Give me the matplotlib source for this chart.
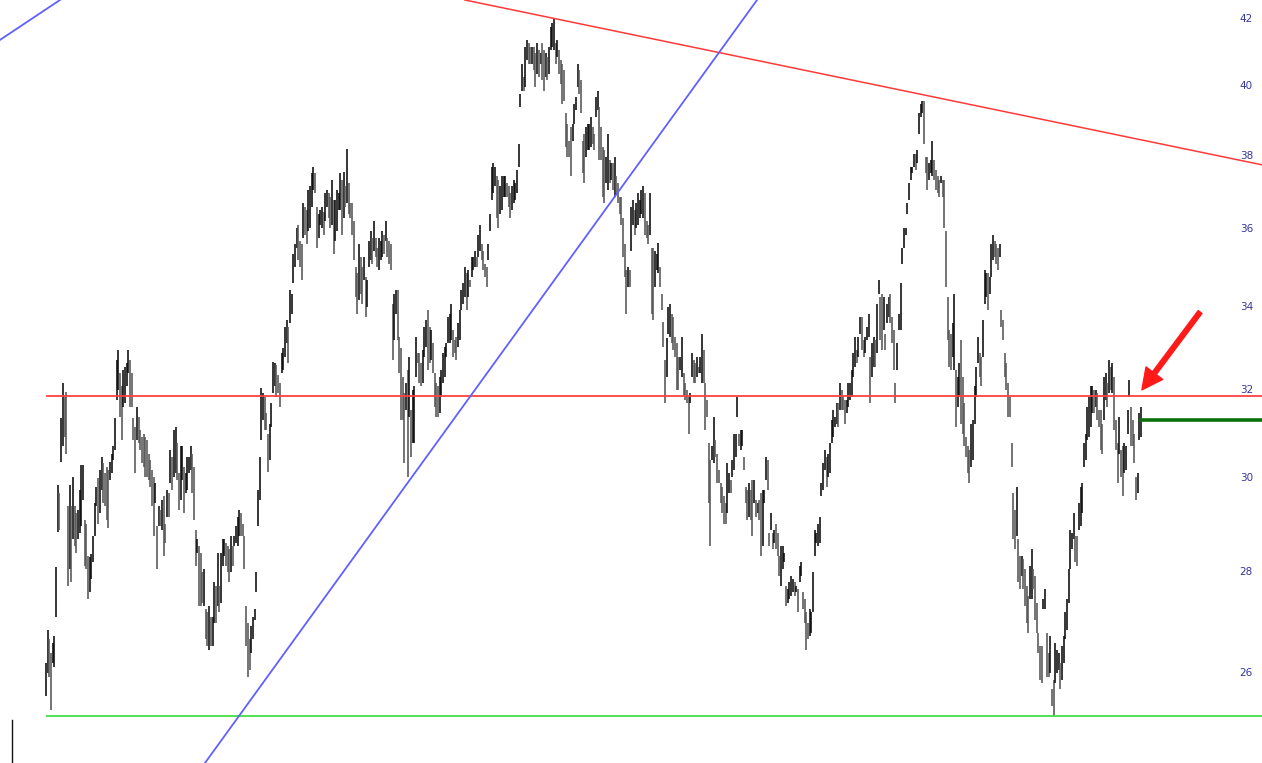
import numpy as np
import matplotlib
matplotlib.use("Agg")
import matplotlib.pyplot as plt
from matplotlib.transforms import blended_transform_factory

# daily highs / lows (left to right)
highs = [
    26.19, 26.84, 26.65, 26.39, 26.58, 26.71, 28.1, 29.85, 29.67, 31.34,
    32.16, 31.84, 31.96, 29.38, 29.85, 29.38, 30.03, 29.38, 29.23, 29.3,
    29.74, 30.29, 30.29, 29.09, 29.01, 28.33, 28.3, 28.37, 28.74, 29.45,
    29.81, 29.99, 30.18, 30.47, 30.33, 30.1, 30.25, 30.18, 30.36, 30.54,
    30.7, 31.34, 32.71, 32.95, 32.39, 32.08, 32.47, 32.55, 32.63, 32.95,
    32.71, 32.39, 31.34, 31.15, 31.61, 31.38, 31.07, 30.92, 30.99, 30.92,
    30.84, 30.54, 30.4, 30.18, 30.03, 29.89, 28.95, 29.38, 29.3, 29.52,
    29.6, 29.01, 29.74, 29.67, 30.62, 30.47, 31.07, 31.15, 30.77, 30.1,
    30.7, 30.7, 30.25, 30.1, 30.47, 30.47, 30.7, 30.54, 30.25, 28.88,
    28.68, 28.54, 28.4, 27.99, 28.06, 27.24, 27.18, 27.31, 27.1, 27.1,
    27.79, 27.72, 28.4, 27.72, 28.4, 28.68, 28.68, 28.61, 28.54, 28.47,
    28.74, 28.54, 28.74, 28.95, 29.16, 29.3, 29.23, 29.01, 28.74, 27.31,
    26.97, 26.65, 26.91, 27.1, 27.24, 27.99,
    29.74, 30.47, 32.04, 31.92, 31.84, 31.46, 30.99, 31.22, 31.69, 32.67,
    32.63, 32.59, 32.35, 32.16, 32.87, 32.99, 33.51, 33.68, 33.51, 34.42,
    34.34, 35.35, 35.6, 36.03, 36.12, 35.69, 35.6, 36.69, 36.59, 36.5,
    37.05, 37.15, 37.51, 37.69, 37.51, 36.59, 36.41, 36.5, 36.59, 36.45,
    36.96, 37.05, 36.96, 36.87, 37.33, 36.78, 36.78, 37.05, 36.96, 37.51,
    37.33, 37.55, 37.15, 38.18, 37.24, 36.69, 36.69, 36.21, 35.02, 34.86,
    35.6, 35.27, 35.02, 35.27, 34.77, 34.68, 35.69, 35.95, 35.78, 36.21,
    35.78, 35.52, 35.78, 35.69, 35.95, 35.86, 36.21, 35.78, 35.69, 35.6,
    34.09, 34.34, 34.42, 34.42, 33.27,
    33.0, 32.31, 31.92, 32.16, 32.47, 32.79, 31.53, 32.0, 32.08, 33.27,
    32.87, 32.87, 32.63, 32.95, 33.51, 33.68, 33.93, 33.51, 33.43, 33.11,
    32.39, 32.16, 32.08, 32.31, 32.47, 32.87, 33.03, 33.11, 33.76, 33.84,
    34.09, 33.43, 33.19, 33.27, 33.6, 33.93, 34.42, 34.6, 35.02, 34.86,
    34.94, 34.68, 35.27, 35.27, 35.44, 35.27, 35.86, 36.12, 35.6, 35.44,
    35.1, 35.02, 35.6, 36.41, 37.69, 37.78, 37.69, 37.42, 37.33, 37.15,
    37.42, 37.42, 37.42, 37.24, 37.15, 36.96, 37.15, 37.33, 37.24, 37.6,
    38.33, 39.75, 40.65, 40.25, 41.16, 41.36, 41.26, 41.16, 41.16, 41.16,
    40.96, 41.26, 41.06, 40.96, 41.26, 41.06, 40.96, 40.85, 41.16, 41.77,
    41.87, 42.02, 41.26, 41.36, 41.06, 40.75, 40.65, 40.45, 39.19, 38.9,
    38.42, 38.81, 38.9, 39.47, 39.66, 40.65, 40.45, 40.15, 38.42, 38.61,
    38.81, 38.9, 38.9, 39.1, 38.81, 38.61, 39.66, 39.85, 39.37, 38.81,
    38.24, 38.14, 37.96, 38.61, 37.87, 37.78, 37.78, 37.96, 37.42, 37.24,
    36.87, 36.87, 36.31, 35.6, 34.94, 35.02, 34.94, 36.59, 36.78, 36.5,
    36.69, 36.96, 36.78, 37.05, 37.15, 36.96, 36.21, 36.12, 36.96, 35.52,
    35.52, 35.44, 35.35, 35.65, 35.02, 34.34, 33.64, 32.71, 33.23, 34.01,
    34.09, 33.84, 33.76, 33.27, 33.11, 32.79, 32.79, 33.27, 32.39, 32.16,
    32.0, 31.84, 31.92, 32.87, 32.71, 32.63, 32.79, 32.55, 32.79, 33.35,
    32.95, 32.16, 31.77, 30.77, 30.4, 30.7, 31.38, 30.84, 30.54, 30.18,
    29.89, 29.81, 29.6, 29.45, 30.33, 30.1, 29.96, 30.4, 30.99, 30.99,
    31.84, 30.99, 31.07, 31.07, 30.47, 29.81, 29.74, 29.89, 29.74, 29.96,
    29.96, 29.52, 29.45, 29.52, 29.67, 29.74, 29.74, 30.47, 30.4, 28.81,
    29.23, 28.81, 28.88, 29.01, 28.81, 28.33, 28.54, 28.54, 28.4, 27.72,
    27.66, 27.79, 27.92, 27.86, 27.79, 27.72, 27.66, 28.13, 28.2, 27.59,
    27.45, 27.18, 26.97, 27.24, 27.18, 27.99, 28.88, 28.81, 29.01, 29.16,
    29.89, 30.33, 30.62,
    30.47, 30.54, 30.77, 31.3, 31.53, 31.38, 31.69, 31.69, 32.16, 32.0,
    31.84, 31.77, 31.77, 32.16, 32.16, 32.47, 32.87, 33.27, 32.95, 33.27,
    33.76, 33.76, 33.19, 33.27, 33.51, 33.84, 32.79, 33.11, 33.27, 33.19,
    34.09, 34.68, 34.26, 34.34, 34.26, 33.35, 34.09, 34.26, 34.34, 33.76,
    33.43, 32.16, 33.11, 33.84, 34.6, 35.52, 36.03, 36.03, 36.69, 37.24,
    37.69, 37.69, 38.05, 38.05, 38.14, 39.19, 39.47, 39.56, 39.56, 37.96,
    37.96, 37.78, 37.87, 38.42, 37.87, 37.6, 37.42, 37.33, 37.42, 37.33,
    37.33, 35.95, 34.26, 33.43, 33.35, 33.6, 34.34, 32.47, 32.31, 32.63,
    33.19, 32.31, 31.69, 30.92, 30.7, 30.62, 31.22, 31.3, 32.08, 32.55,
    33.27, 32.87, 32.79, 33.68, 34.94, 34.86, 34.86, 34.77, 35.6, 35.86,
    35.69, 35.6, 35.52, 35.6, 33.93, 33.68, 32.87, 32.63, 32.16,
    31.84, 30.77, 29.67, 29.3, 29.81, 28.68, 28.33, 28.33, 28.27, 28.06,
    27.72, 27.52, 28.13, 28.47, 28.06, 27.92, 27.38, 26.78, 26.52, 26.52,
    27.45, 27.66, 26.78, 26.39, 26.71, 25.69, 25.87, 26.58, 26.45, 26.39,
    26.19, 26.52, 26.71, 27.18, 27.45, 28.06, 28.88, 28.81, 29.23, 28.74,
    28.74, 29.45, 29.81, 29.89, 30.77, 30.99, 31.61, 31.84, 32.08, 32.08,
    32.0, 32.0, 31.92, 31.53, 31.53, 31.22, 32.31, 32.39, 32.16, 32.71,
    32.55, 32.63, 32.31, 31.3, 30.77, 31.38, 30.62, 30.7, 30.77, 30.7,
    31.53, 32.24, 31.61, 31.3, 30.99, 30.03, 30.1, 31.46, 31.61,
]

lows = [
    25.56, 26.0, 25.93, 25.31, 26.19, 26.12, 27.1, 28.84, 28.88, 30.36,
    30.7, 30.92, 30.54, 27.72, 28.06, 27.79, 28.68, 28.54, 28.4, 28.68,
    28.81, 28.95, 29.52, 28.13, 28.06, 27.45, 27.59, 27.86, 28.2, 28.74,
    29.38, 29.01, 29.23, 29.74, 29.45, 29.38, 29.09, 28.91, 29.96, 30.1,
    30.4, 30.62, 31.77, 32.0, 31.38, 30.84, 31.61, 31.69, 32.08, 32.39,
    31.61, 31.61, 30.84, 30.1, 30.84, 30.77, 30.62, 30.33, 30.25, 30.03,
    30.03, 29.96, 29.81, 29.38, 28.74, 29.45, 28.06, 28.95, 28.95, 28.88,
    28.33, 28.61, 29.16, 29.16, 29.89, 29.74, 30.03, 30.1, 29.96, 29.3,
    29.52, 29.96, 29.23, 29.67, 29.74, 30.1, 30.18, 29.67, 29.09, 28.13,
    28.4, 27.31, 27.31, 27.38, 27.31, 26.65, 26.52, 26.45, 26.52, 26.52,
    26.97, 26.97, 27.31, 27.18, 27.38, 28.13, 28.33, 28.13, 27.99, 27.79,
    27.99, 28.13, 28.54, 28.61, 28.54, 28.74, 28.74, 28.74, 28.06, 26.52,
    25.93, 26.06, 26.39, 26.65, 27.04, 27.59,
    28.95, 29.52, 30.84, 31.3, 31.07, 31.07, 30.14, 30.4, 31.15, 31.92,
    32.08, 31.84, 31.92, 31.61, 32.39, 32.47, 32.79, 33.11, 32.63, 33.6,
    33.84, 34.6, 35.02, 35.52, 35.2, 35.02, 34.68, 35.78, 35.86, 35.6,
    35.95, 36.03, 36.59, 37.05, 36.96, 35.52, 35.78, 36.12, 36.03, 35.86,
    36.21, 36.59, 36.31, 36.03, 36.12, 35.35, 35.69, 35.95, 36.5, 36.5,
    35.86, 36.31, 36.59, 36.69, 36.41, 36.31, 35.86, 35.2, 34.26, 33.84,
    34.18, 34.34, 34.09, 34.68, 33.76, 34.01, 35.02, 35.2, 35.1, 35.44,
    35.27, 35.02, 34.94, 35.2, 35.27, 35.35, 35.69, 35.27, 35.1, 34.94,
    32.71, 33.19, 33.84, 33.19, 32.39,
    31.3, 31.3, 30.33, 31.53, 30.03, 31.38, 30.47, 30.77, 30.77, 32.31,
    32.63, 32.16, 32.08, 32.16, 32.79, 33.03, 32.47, 32.63, 32.71, 32.39,
    31.61, 31.38, 31.38, 31.46, 31.84, 32.16, 32.31, 32.79, 33.11, 33.11,
    33.19, 32.79, 32.87, 32.71, 33.03, 33.19, 33.93, 34.09, 34.26, 33.93,
    34.26, 34.51, 34.77, 34.94, 35.02, 35.02, 35.27, 35.44, 35.2, 34.94,
    34.77, 34.51, 35.2, 35.95, 36.78, 36.96, 37.15, 36.31, 36.03, 36.41,
    36.5, 36.87, 36.87, 36.87, 36.59, 36.31, 36.5, 36.69, 36.78, 36.96,
    37.69, 39.37, 39.85, 39.85, 39.95, 40.75, 40.65, 40.65, 40.65, 40.45,
    39.95, 40.35, 40.25, 40.65, 40.15, 39.85, 40.25, 40.15, 40.35, 41.06,
    41.16, 41.06, 40.65, 40.85, 40.35, 40.05, 39.47, 39.56, 38.24, 37.96,
    37.96, 37.42, 38.42, 38.9, 39.28, 39.95, 39.75, 39.19, 37.51, 37.24,
    37.96, 38.14, 38.14, 38.24, 38.33, 38.14, 39.1, 39.28, 37.87, 37.87,
    36.87, 36.69, 37.24, 37.05, 37.24, 37.33, 37.05, 36.87, 36.96, 36.69,
    36.41, 36.12, 35.27, 34.77, 33.84, 34.51, 34.51, 35.44, 36.12, 35.86,
    36.03, 36.12, 36.31, 36.41, 36.31, 35.86, 35.78, 35.6, 35.86, 33.84,
    33.68, 34.51, 34.94, 34.86, 34.51, 33.93, 33.03, 31.69, 32.31, 33.35,
    33.27, 33.11, 32.95, 32.79, 32.0, 32.0, 32.47, 32.31, 31.84, 31.77,
    31.69, 30.99, 31.69, 32.31, 32.16, 32.16, 32.31, 32.39, 32.39, 32.16,
    32.16, 31.07, 31.38, 29.45, 28.54, 30.4, 30.33, 30.47, 29.89, 29.89,
    29.45, 29.23, 29.01, 29.01, 29.23, 29.67, 29.67, 30.03, 30.18, 30.47,
    31.38, 30.7, 30.62, 30.7, 30.18, 29.45, 29.09, 29.16, 29.09, 28.74,
    29.45, 29.16, 29.23, 29.09, 28.33, 28.54, 29.45, 29.96, 29.74, 28.54,
    28.88, 28.47, 28.61, 28.47, 28.33, 27.92, 27.72, 28.06, 28.2, 27.31,
    27.38, 27.45, 27.52, 27.59, 27.52, 27.59, 27.18, 27.79, 27.92, 27.24,
    26.97, 26.45, 26.65, 26.71, 26.78, 27.18, 28.33, 28.61, 28.54, 28.61,
    29.6, 29.74, 30.18,
    29.81, 30.03, 30.1, 30.77, 30.92, 31.15, 31.22, 31.15, 31.53, 31.53,
    31.53, 31.22, 31.46, 31.61, 31.77, 31.84, 32.31, 32.55, 32.63, 32.79,
    33.35, 32.95, 32.79, 32.87, 33.19, 33.27, 31.69, 32.31, 32.55, 32.55,
    32.87, 34.34, 33.19, 32.95, 33.43, 32.95, 33.6, 33.76, 33.6, 33.11,
    32.47, 31.69, 32.47, 33.43, 33.43, 35.1, 35.52, 35.86, 36.41, 36.78,
    37.33, 37.51, 37.69, 37.6, 37.78, 38.61, 39.1, 39.19, 38.33, 37.51,
    37.05, 37.33, 37.51, 37.42, 37.33, 37.05, 36.96, 36.87, 37.24, 36.87,
    36.03, 34.51, 33.19, 32.55, 32.47, 32.79, 32.47, 31.15, 31.61, 31.84,
    31.22, 30.99, 30.7, 30.47, 30.1, 29.89, 30.25, 30.4, 31.22, 31.84,
    32.63, 32.31, 32.08, 32.79, 34.09, 34.26, 33.93, 34.34, 34.77, 35.2,
    35.27, 35.1, 34.94, 35.27, 33.51, 33.19, 32.31, 32.0, 31.38,
    31.38, 30.25, 28.68, 28.47, 28.74, 27.79, 27.66, 27.92, 27.66, 27.31,
    26.97, 26.78, 27.45, 27.45, 27.66, 27.04, 26.78, 26.39, 25.87, 25.81,
    27.24, 27.24, 25.93, 25.93, 26.0, 25.38, 25.19, 25.81, 26.0, 26.06,
    25.69, 25.87, 26.19, 26.65, 26.84, 27.38, 28.06, 28.47, 28.68, 28.2,
    28.13, 28.88, 28.95, 29.23, 30.25, 30.4, 30.84, 30.92, 31.15, 31.46,
    31.46, 31.61, 31.3, 31.15, 30.62, 30.54, 31.3, 31.77, 31.61, 31.92,
    32.0, 31.92, 31.07, 30.62, 29.89, 30.54, 30.03, 29.6, 30.1, 30.18,
    30.99, 31.84, 30.7, 30.7, 30.33, 29.52, 29.67, 30.84, 30.92,
]

price_labels = [26, 28, 30, 32, 34, 36, 38, 40, 42]

# drawn levels and trendlines (bar index, price)
resistance = 31.86
support = 25.19
last_close = 31.30
down_trend = ([249, 723], [42.59, 37.74])
up_trend = ([94.5, 422.7], [24.34, 42.59])
old_trend = ([-27.4, 8.3], [41.36, 42.59])

highs = np.array(highs)
lows = np.array(lows)
x = np.arange(len(highs))

fig = plt.figure(figsize=(12.62, 7.63), dpi=100)
ax = fig.add_axes([0, 0, 1, 1])
ax.set_yscale("log")
ax.set_xlim(-27.35, 722.9)
ax.set_ylim(24.34, 42.59)
ax.set_axis_off()

# bars: black when the day's midpoint rose, grey otherwise
mid = (highs + lows) / 2
up = np.r_[True, mid[1:] >= mid[:-1]]
colors = np.where(up, "#0a0a0a", "#555555")
ax.vlines(x, lows, highs, colors=colors, linewidth=1.15)

# horizontal levels
ax.plot([0.7, 722.9], [resistance, resistance], color="#ff4040", lw=1.3)
ax.plot([0.7, 722.9], [support, support], color="#44dd44", lw=1.3)
ax.plot([len(x) - 1, 722.9], [last_close, last_close], color="#0a700a", lw=2.6)

# trendlines
ax.plot(*down_trend, color="#ff3a3a", lw=1.1)
ax.plot(*up_trend, color="#6060ff", lw=1.3)
ax.plot(*old_trend, color="#6060ff", lw=1.3)

# arrow pointing at the last bars
ax.annotate("", xy=(651.5, 32.0), xytext=(686.1, 33.88),
            arrowprops=dict(facecolor="#ff1a1a", edgecolor="#ff1a1a",
                            width=3.4, headwidth=15, headlength=15))

# price labels on the right
tr = blended_transform_factory(ax.transAxes, ax.transData)
for v in price_labels:
    ax.text(1253 / 1262, v, str(v), transform=tr, ha="right", va="center",
            fontsize=7.5, color="#3535a0")

# small marker at the bottom left corner
ax.plot([12 / 1262, 12 / 1262], [0, 43 / 763], transform=ax.transAxes,
        color="#111111", lw=1)

fig.savefig("out.png", dpi=100)
